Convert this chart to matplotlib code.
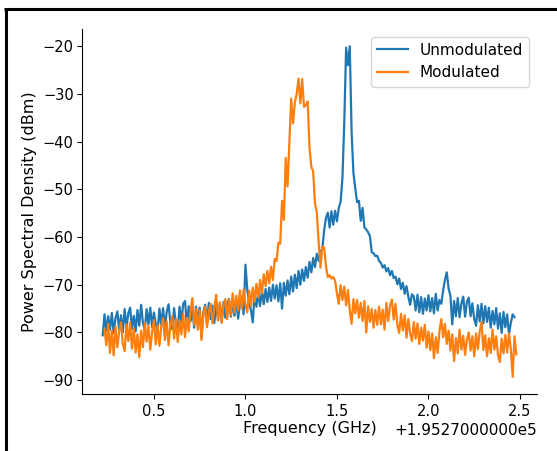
import numpy as np
import matplotlib
matplotlib.use("Agg")
import matplotlib.pyplot as plt
from matplotlib.ticker import ScalarFormatter
from matplotlib.lines import Line2D

# ---------------- data ----------------
OFFSET_GHZ = 195270.0
unmod_start, mod_start, step = 0.22, 0.23, 0.01

unmodulated = [
    -80.6, -76.2, -79.8, -76.6, -79.4, -75.9, -80.1, -77.0, -75.6, -79.5,
    -76.4, -80.0, -75.1, -78.9, -76.0, -74.8, -79.3, -76.5, -79.8, -75.3,
    -78.6, -74.2, -78.0, -79.6, -75.1, -78.3, -74.8, -78.9, -75.8, -78.2,
    -79.8, -75.0, -78.4, -74.9, -79.1, -75.6, -74.1, -78.0, -79.3, -74.9,
    -78.2, -79.5, -74.6, -77.8, -74.0, -73.4, -78.6, -74.5, -77.7, -75.1,
    -79.0, -74.6, -77.9, -74.8, -81.0, -75.7, -74.2, -78.1, -73.8, -77.2,
    -74.4, -78.0, -73.8, -77.3, -74.0, -77.7, -73.6, -76.9, -74.2, -73.0,
    -76.7, -73.7, -76.5, -73.2, -77.1, -74.0, -72.9, -76.2, -65.8, -71.0,
    -73.8, -75.3, -77.9, -72.0, -74.6, -71.6, -74.5, -71.1, -74.1, -70.9,
    -73.6, -70.6, -73.4, -70.0, -72.9, -70.1, -73.5, -69.7, -75.0, -69.6,
    -72.3, -69.1, -72.0, -68.3, -71.4, -67.9, -70.7, -67.1, -70.0, -66.8,
    -69.2, -66.3, -68.5, -65.2, -67.4, -64.4, -66.3, -63.5, -65.0, -63.0,
    -62.5, -58.6, -56.0, -54.9, -58.0, -54.6, -57.4, -54.5, -56.7, -53.9,
    -52.6, -47.6, -36.0, -20.3, -24.0, -20.0, -38.0, -46.5, -49.8, -52.7,
    -52.4, -56.6, -53.9, -58.0, -58.4, -59.0, -59.8, -63.2, -63.4, -64.0,
    -63.9, -65.0, -65.4, -66.4, -65.9, -67.2, -66.5, -68.0, -67.1, -68.6,
    -68.3, -69.9, -68.7, -70.9, -69.6, -71.9, -70.3, -72.5, -74.2, -72.0,
    -72.5, -75.4, -72.1, -75.8, -72.6, -76.1, -72.9, -75.4, -72.2, -75.6,
    -72.8, -76.0, -71.9, -75.4, -73.2, -74.0, -71.2, -69.0, -67.4, -70.8,
    -72.3, -78.3, -73.4, -76.6, -72.8, -76.8, -73.9, -72.5, -76.7, -73.6,
    -72.7, -76.6, -73.9, -77.2, -78.6, -74.3, -77.7, -74.0, -78.1, -74.5,
    -77.8, -74.8, -79.0, -75.5, -78.3, -74.9, -79.2, -76.0, -80.1, -75.7,
    -78.9, -76.2, -80.4, -78.0, -76.2, -76.8,
]

modulated = [
    -79.4, -82.7, -78.2, -84.3, -79.6, -84.8, -78.8, -83.1, -79.9, -77.9,
    -82.4, -83.9, -78.3, -81.8, -77.9, -83.4, -79.2, -84.2, -80.4, -85.2,
    -79.6, -83.1, -78.0, -81.9, -78.6, -83.6, -79.8, -77.4, -82.5, -78.5,
    -82.8, -78.8, -77.0, -81.6, -77.7, -82.7, -78.4, -76.6, -81.3, -77.2,
    -82.0, -77.5, -80.4, -76.1, -81.0, -77.0, -79.8, -75.5, -72.8, -78.4,
    -75.1, -79.4, -75.4, -81.6, -76.2, -74.6, -78.9, -75.7, -74.0, -78.1,
    -74.8, -72.1, -77.5, -73.7, -78.0, -74.3, -73.0, -77.2, -73.2, -76.4,
    -71.8, -75.8, -72.3, -75.4, -71.2, -75.0, -71.0, -74.2, -75.8, -71.2,
    -74.5, -70.6, -73.6, -69.8, -72.7, -69.0, -71.8, -67.8, -70.3, -67.1,
    -69.7, -66.2, -69.0, -64.6, -65.0, -61.2, -61.4, -52.4, -56.4, -43.4,
    -49.4, -40.4, -31.0, -36.2, -31.8, -30.0, -26.8, -32.0, -26.9, -32.7,
    -32.4, -31.6, -41.3, -45.3, -46.2, -53.0, -54.8, -61.1, -66.4, -62.0,
    -62.2, -66.1, -68.4, -68.0, -68.7, -68.4, -69.2, -71.8, -74.0, -70.1,
    -73.2, -70.4, -74.3, -71.1, -75.4, -78.2, -73.0, -76.0, -73.2, -76.9,
    -73.8, -77.6, -73.4, -80.0, -74.5, -77.8, -75.1, -79.0, -75.3, -78.4,
    -74.6, -78.3, -75.2, -79.4, -73.8, -77.6, -74.4, -73.1, -77.3, -74.0,
    -78.4, -80.1, -76.1, -79.6, -76.4, -81.1, -77.2, -80.2, -81.8, -77.8,
    -81.3, -78.1, -82.4, -79.0, -81.7, -78.4, -83.2, -79.8, -83.7, -80.2,
    -85.4, -81.0, -84.3, -79.8, -77.2, -81.0, -78.2, -82.4, -79.6, -83.8,
    -80.4, -86.0, -81.2, -84.4, -79.4, -83.6, -80.7, -84.7, -81.5, -80.0,
    -83.8, -80.8, -85.0, -80.2, -83.5, -79.8, -77.8, -83.7, -80.6, -85.0,
    -81.2, -84.3, -79.4, -83.6, -80.8, -84.8, -86.2, -81.3, -84.4, -80.5,
    -84.2, -80.2, -83.4, -89.3, -80.8, -84.6,
]

series_labels = ["Unmodulated", "Modulated"]
x_label = "Frequency (GHz)"
y_label = "Power Spectral Density (dBm)"
offset_label = "+1.9527000000e5"

freq_unmod = OFFSET_GHZ + unmod_start + step * np.arange(len(unmodulated))
freq_mod = OFFSET_GHZ + mod_start + step * np.arange(len(modulated))


class FixedOffsetFormatter(ScalarFormatter):
    def get_offset(self):
        return offset_label


# ---------------- figure ----------------
W, H, DPI = 557, 451, 100
fig = plt.figure(figsize=(W / DPI, H / DPI), dpi=DPI, facecolor="white")
ax = fig.add_axes([82 / W, 1 - 394 / H, (537 - 82) / W, (394 - 29) / H])

ax.plot(freq_unmod, unmodulated, color="#1f77b4", lw=1.6, label=series_labels[0])
ax.plot(freq_mod, modulated, color="#ff7f0e", lw=1.6, label=series_labels[1])

ax.xaxis.set_major_formatter(FixedOffsetFormatter(useOffset=OFFSET_GHZ))
ax.set_xticks(OFFSET_GHZ + np.array([0.5, 1.0, 1.5, 2.0, 2.5]))
ax.set_yticks([-90, -80, -70, -60, -50, -40, -30, -20])
ax.set_xlim(OFFSET_GHZ + 0.107, OFFSET_GHZ + 2.593)
ax.set_ylim(-92.9, -16.4)

ax.tick_params(axis="both", labelsize=10.5)
ax.tick_params(axis="y", pad=2.5)
ax.xaxis.get_offset_text().set_fontsize(11)
ax.set_xlabel(x_label, fontsize=11.5, labelpad=2)
ax.set_ylabel(y_label, fontsize=11.5, labelpad=4)

for s in ("top", "right"):
    ax.spines[s].set_visible(False)

ax.legend(loc="upper right", fontsize=11)

# screenshot frame (black border on left and top)
fig.add_artist(Line2D([5.5 / W, 5.5 / W], [0, 1 - 8 / H], transform=fig.transFigure,
                      color="black", lw=2.2, solid_capstyle="butt"))
fig.add_artist(Line2D([4 / W, 1], [1 - 9 / H, 1 - 9 / H], transform=fig.transFigure,
                      color="black", lw=2.2, solid_capstyle="butt"))

fig.savefig("out.png", dpi=DPI, facecolor="white")
